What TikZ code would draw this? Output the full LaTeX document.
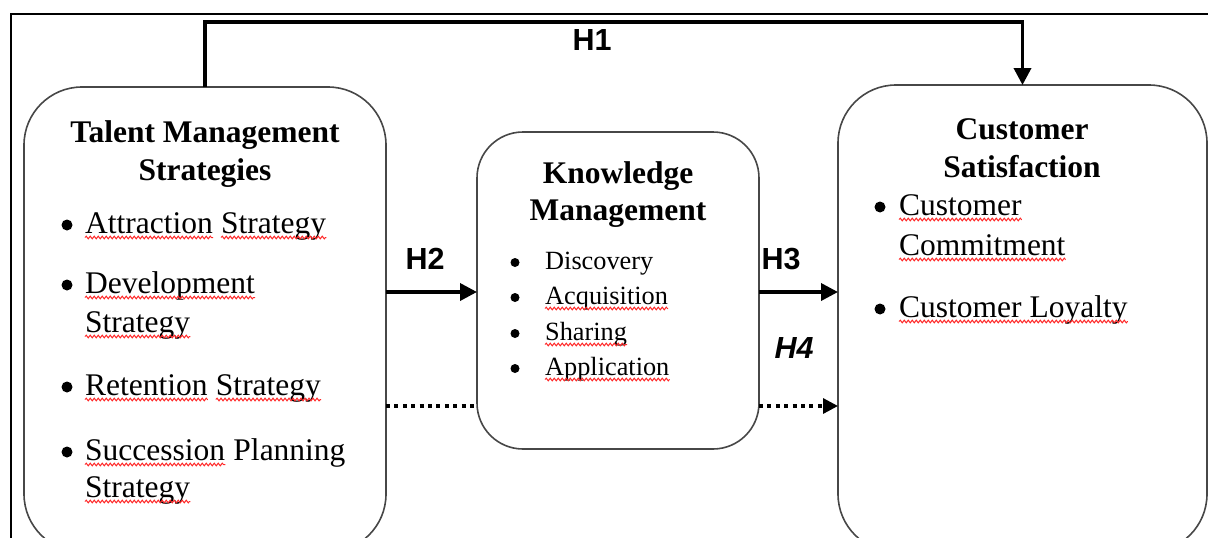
\documentclass[tikz,border=0pt]{standalone}
\usepackage{fontspec}
\setmainfont{Liberation Serif}
\newfontfamily\arialf{Liberation Sans}
\usetikzlibrary{arrows.meta,decorations.pathmorphing}
\begin{document}
\begin{tikzpicture}[x=1pt,y=-1pt,
  box/.style={draw=black!72,line width=1.6pt,inner sep=0pt,outer sep=0pt},
  ttl/.style={font=\fontsize{31.5}{38}\selectfont\bfseries,inner sep=0pt,anchor=base},
  bodytxt/.style={font=\fontsize{31.5}{38}\selectfont,inner sep=0pt,anchor=base west},
  smalltxt/.style={font=\fontsize{26.3}{32}\selectfont,inner sep=0pt,anchor=base west},
  bul/.style={circle,fill=black,inner sep=0pt,minimum size=11pt},
  sbul/.style={circle,fill=black,inner sep=0pt,minimum size=9pt},
  hlab/.style={font=\fontsize{30.5}{36}\selectfont\arialf\bfseries,inner sep=0pt,anchor=base},
  conn/.style={line width=3.6pt,-{Triangle[length=17pt,width=17pt]}},
  dotl/.style={line width=3.2pt,dash pattern=on 4pt off 4.4pt},
  wave/.style={red!85!white,line width=1pt,decorate,decoration={snake,segment length=4pt,amplitude=1.3pt}}
]
\useasboundingbox (0,0) rectangle (1208,538);
\clip (0,0) rectangle (1208,538);
\fill[white] (0,0) rectangle (1208,538);
% frame
\draw[line width=2pt] (11,540) -- (11,14) -- (1210,14);
% boxes
\node[box,rounded corners=58pt,minimum width=362pt,minimum height=465pt] (tm) at (205,319.5) {};
\node[box,rounded corners=46pt,minimum width=282pt,minimum height=317pt] (km) at (618,290.5) {};
\node[box,rounded corners=58pt,minimum width=369pt,minimum height=467pt] (cs) at (1022.5,318.5) {};
% titles
\node[ttl] (tm1) at (205,142) {Talent Management};
\node[ttl] (tm2) at (205,180) {Strategies};
\node[ttl] (km1) at (618,183) {Knowledge};
\node[ttl] (km2) at (618,220) {Management};
\node[ttl] (cs1) at (1022,139) {Customer};
\node[ttl] (cs2) at (1022,177) {Satisfaction};
% left bullets
\node[bul] (lb1) at (67,225) {};
\node[bodytxt] (lt1a) at (85,233) {Attraction};
\node[bodytxt] (lt1b) at ([xshift=7.9pt]lt1a.base east) {Strategy};
\node[bul] (lb2) at (67,285) {};
\node[bodytxt] (lt2) at (85,293) {Development};
\node[bodytxt] (lt2b) at (85,332) {Strategy};
\node[bul] (lb3) at (67,387) {};
\node[bodytxt] (lt3a) at (85,395) {Retention};
\node[bodytxt] (lt3b) at ([xshift=7.9pt]lt3a.base east) {Strategy};
\node[bul] (lb4) at (67,452) {};
\node[bodytxt] (lt4a) at (85,460) {Succession};
\node[bodytxt] (lt4p) at ([xshift=7.9pt]lt4a.base east) {Planning};
\node[bodytxt] (lt4b) at (85,497) {Strategy};
% middle bullets
\node[sbul] (mb1) at (515,262.5) {};
\node[smalltxt] (mt1) at (545,269) {Discovery};
\node[sbul] (mb2) at (515,297.5) {};
\node[smalltxt] (mt2) at (545,304) {Acquisition};
\node[sbul] (mb3) at (515,333.5) {};
\node[smalltxt] (mt3) at (545,340) {Sharing};
\node[sbul] (mb4) at (515,368.5) {};
\node[smalltxt] (mt4) at (545,375) {Application};
% right bullets
\node[bul] (rb1) at (880,207) {};
\node[bodytxt] (rt1) at (899,215) {Customer};
\node[bodytxt] (rt1b) at (899,255) {Commitment};
\node[bul] (rb2) at (880,309) {};
\node[bodytxt] (rt2) at (899,317) {Customer Loyalty};
% spell-check underlines
\foreach \n in {lt1a,lt1b,lt2,lt2b,lt3a,lt3b,lt4a,lt4b,mt2,mt3,mt4,rt1,rt1b,rt2}
  \draw[wave] ([yshift=-4.5pt]\n.base west) -- ([yshift=-4.5pt]\n.base east);
% connectors
\coordinate (h1c) at (600,22);
\coordinate (r2) at (0,292);
\coordinate (r4) at (0,406);
\draw[conn] (tm.north) -- (tm.north |- h1c) -- (cs.north |- h1c) -- (cs.north);
\draw[conn] (tm.east |- r2) -- (km.west |- r2);
\draw[conn] (km.east |- r2) -- (cs.west |- r2);
\draw[dotl] (tm.east |- r4) -- (km.west |- r4);
\draw[dotl,-{Triangle[length=15pt,width=15pt]}] (km.east |- r4) -- (cs.west |- r4);
% labels
\node[hlab] (h1) at (592,50) {H1};
\node[hlab] (h2) at (425,269) {H2};
\node[hlab] (h3) at (781,269) {H3};
\node[hlab,font=\fontsize{30.5}{36}\selectfont\arialf\bfseries\itshape] (h4) at (794,358) {H4};
\end{tikzpicture}
\end{document}
